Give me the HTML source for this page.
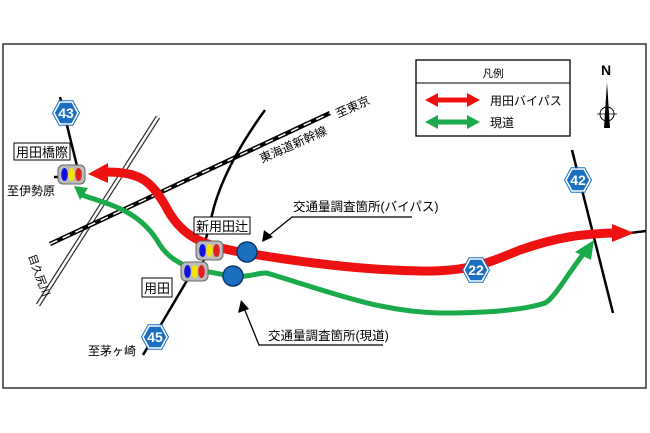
<!DOCTYPE html>
<html><head><meta charset="utf-8"><style>
html,body{margin:0;padding:0;background:#fff;width:650px;height:433px;overflow:hidden}
svg{display:block}
text{font-family:"Liberation Sans","Noto Sans CJK JP",sans-serif;fill:#000}
</style></head><body>
<svg width="650" height="433" viewBox="0 0 650 433" xmlns="http://www.w3.org/2000/svg">
<defs>
<g id="hex"><polygon points="-12,0 -6,-11 6,-11 12,0 6,11 -6,11" fill="#1a6fc0" stroke="#fff" stroke-width="1.5"/><polygon points="-13.5,0 -6.8,-12.3 6.8,-12.3 13.5,0 6.8,12.3 -6.8,12.3" fill="none" stroke="#1a6fc0" stroke-width="1"/></g>
<g id="sig"><rect x="0" y="0" width="27" height="19" rx="5" fill="#bbb" stroke="#666" stroke-width="1"/><ellipse cx="6.5" cy="9.5" rx="3.3" ry="6.5" fill="#1010e0"/><ellipse cx="13.5" cy="9.5" rx="3.3" ry="6.5" fill="#f5e400"/><ellipse cx="20.5" cy="9.5" rx="3.3" ry="6.5" fill="#e02020"/></g>
</defs>
<rect x="3" y="44" width="643" height="344" fill="#fff" stroke="#333" stroke-width="1.5"/>
<!-- river -->
<line x1="38" y1="305" x2="158" y2="117" stroke="#333" stroke-width="5"/>
<line x1="38" y1="305" x2="158" y2="117" stroke="#fff" stroke-width="2.5"/>
<!-- railway -->
<line x1="50" y1="244" x2="330" y2="113" stroke="#000" stroke-width="4.5"/>
<line x1="50" y1="244" x2="330" y2="113" stroke="#fff" stroke-width="1.5" stroke-dasharray="8 6"/>
<!-- roads -->
<line x1="60" y1="97" x2="78" y2="170" stroke="#000" stroke-width="2.5"/>
<line x1="54" y1="177" x2="60" y2="177" stroke="#000" stroke-width="2.5"/>
<line x1="143" y1="355" x2="192" y2="272" stroke="#000" stroke-width="2.5"/>
<path d="M200 258 L210 225 Q218 175 265 110" fill="none" stroke="#000" stroke-width="2.5"/>
<line x1="572" y1="150" x2="613" y2="313" stroke="#000" stroke-width="2.5"/>
<line x1="630" y1="233" x2="646" y2="231" stroke="#000" stroke-width="2.5"/>
<!-- green route -->
<path d="M82 195 C110 205 140 210 160 245 C175 268 200 270 225 275 C250 280 260 270 270 274 C330 292 380 312 440 313 C500 313 530 308 545 303 C555 298 570 270 585 252" fill="none" stroke="#1aaa4a" stroke-width="5"/>
<polygon points="594,240 575,252 591,260" fill="#1aaa4a"/>
<polygon points="74,186 88,188 80,200" fill="#1aaa4a"/>
<!-- red route -->
<path d="M105 172 C140 172 150 180 165 205 C180 235 200 245 240 252 C300 262 360 270 420 271 C470 272 490 262 520 250 C560 236 585 234 612 233" fill="none" stroke="#ee1111" stroke-width="9"/>
<polygon points="88,174 108,163 108,183" fill="#ee1111"/>
<polygon points="634,233 612,224 612,242" fill="#ee1111"/>
<!-- signals -->
<use href="#sig" x="58" y="165"/>
<line x1="205" y1="258" x2="200" y2="268" stroke="#000" stroke-width="2"/>
<use href="#sig" x="196" y="241"/>
<use href="#sig" x="181" y="262"/>
<circle cx="247" cy="252" r="10" fill="#1a6fc0" stroke="#0a3a70" stroke-width="1.5"/>
<circle cx="233" cy="276" r="10" fill="#1a6fc0" stroke="#0a3a70" stroke-width="1.5"/>
<!-- hexes -->
<use href="#hex" x="66" y="113"/><text x="66" y="118" font-size="14" font-weight="bold" text-anchor="middle" style="fill:#fff">43</text>
<use href="#hex" x="155" y="337"/><text x="155" y="342" font-size="14" font-weight="bold" text-anchor="middle" style="fill:#fff">45</text>
<use href="#hex" x="578" y="180"/><text x="578" y="185" font-size="14" font-weight="bold" text-anchor="middle" style="fill:#fff">42</text>
<use href="#hex" x="476" y="270"/><text x="476" y="275" font-size="14" font-weight="bold" text-anchor="middle" style="fill:#fff">22</text>
<!-- labels -->
<rect x="14" y="143" width="56" height="17" fill="#fff" stroke="#000" stroke-width="1"/>
<text x="42" y="157" font-size="13" text-anchor="middle">用田橋際</text>
<text x="7" y="195" font-size="12">至伊勢原</text>
<rect x="194" y="217" width="56" height="17" fill="#fff" stroke="#000" stroke-width="1"/>
<text x="222" y="231" font-size="13" text-anchor="middle">新用田辻</text>
<rect x="142" y="278" width="30" height="19" fill="#fff" stroke="#000" stroke-width="1"/>
<text x="157" y="293" font-size="13" text-anchor="middle">用田</text>
<text x="88" y="355" font-size="12">至茅ヶ崎</text>
<text x="0" y="0" font-size="12" transform="translate(262,163) rotate(-24)">東海道新幹線</text>
<text x="0" y="0" font-size="12" transform="translate(338,118) rotate(-24)">至東京</text>
<text font-size="11" transform="translate(28,256) rotate(70)">目久尻川</text>
<!-- callouts -->
<text x="293" y="211" font-size="12.5">交通量調査箇所(バイパス)</text>
<polyline points="412,217 292,217 266,238" fill="none" stroke="#000" stroke-width="1.3"/>
<polygon points="262,242 264,230 273,237" fill="#000"/>
<text x="268" y="340" font-size="12.5">交通量調査箇所(現道)</text>
<polyline points="383,345 259,345 244,308" fill="none" stroke="#000" stroke-width="1.3"/>
<polygon points="241,300 238,313 249,309" fill="#000"/>
<!-- legend -->
<rect x="416" y="60" width="154" height="76" fill="#fff" stroke="#000" stroke-width="1.3"/>
<line x1="416" y1="83" x2="570" y2="83" stroke="#000" stroke-width="1"/>
<text x="493" y="77" font-size="10.5" text-anchor="middle">凡例</text>
<line x1="436" y1="100" x2="468" y2="100" stroke="#ee1111" stroke-width="5"/>
<polygon points="425,100 438,93 438,107" fill="#ee1111"/><polygon points="480,100 467,93 467,107" fill="#ee1111"/>
<text x="490" y="105" font-size="12">用田バイパス</text>
<line x1="436" y1="122" x2="468" y2="122" stroke="#1aaa4a" stroke-width="5"/>
<polygon points="425,122 438,115 438,129" fill="#1aaa4a"/><polygon points="480,122 467,115 467,129" fill="#1aaa4a"/>
<text x="490" y="127" font-size="12">現道</text>
<!-- north -->
<text x="606" y="75" font-size="14" font-weight="bold" text-anchor="middle">N</text>
<circle cx="607" cy="114" r="7" fill="none" stroke="#000" stroke-width="1"/>
<line x1="597" y1="114" x2="617" y2="114" stroke="#000" stroke-width="0.8"/>
<polygon points="607,82 604,128 610,128" fill="#000"/>
</svg>
</body></html>
